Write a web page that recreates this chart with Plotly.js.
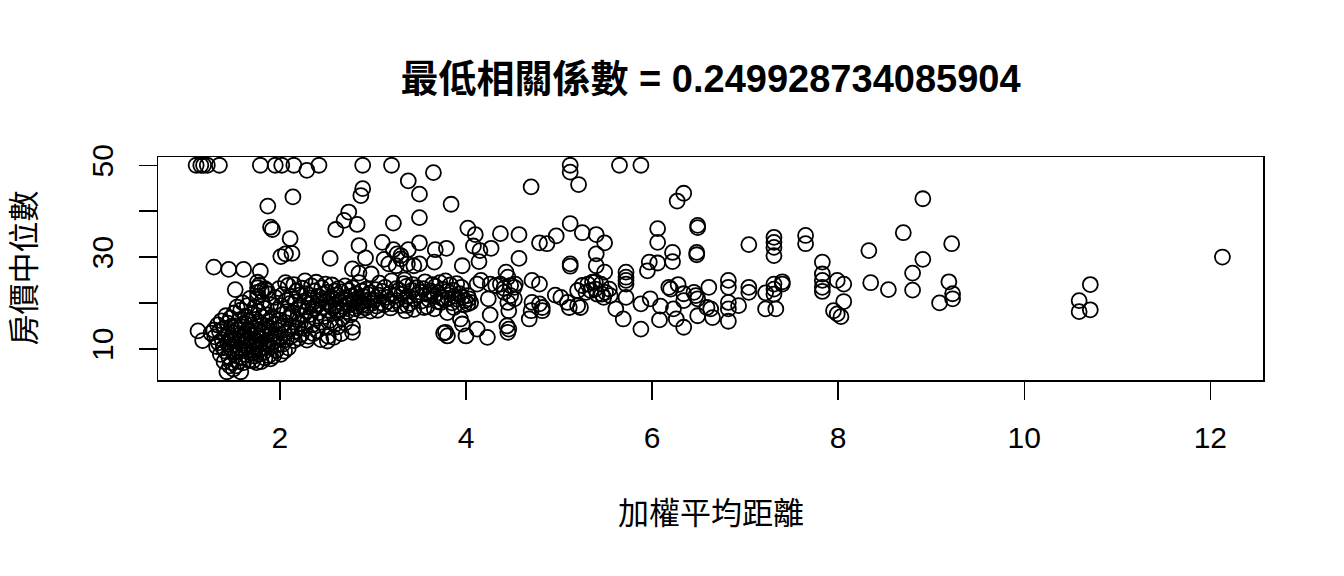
<!DOCTYPE html>
<html>
<head>
<meta charset="utf-8">
<script src="https://cdn.plot.ly/plotly-3.0.1.min.js"></script>
<style>
html,body{margin:0;padding:0;background:#fff;}
#chart{width:1344px;height:576px;}
</style>
</head>
<body>
<div id="chart"></div>
<script>
// Text
const chartTitle = "最低相關係數 = 0.249928734085904";
const xTitle = "加權平均距離";
const yTitle = "房價中位數";
const xTickVals = [2, 4, 6, 8, 10, 12];
const xTickText = ["2", "4", "6", "8", "10", "12"];
const yTickVals = [10, 20, 30, 40, 50];
const yTickText = ["10", "", "30", "", "50"];

// Sparse points (weighted mean distance, median price)
const farDis  = [8.91,8.70,8.33,9.22,8.91,8.80,8.35,8.54,8.80,9.19,9.23,9.23,9.09,10.71,10.59,10.59,10.71,12.13];
const farMedv = [42.7,35.3,31.4,32.9,29.5,26.5,24.4,22.9,22.8,24.6,22.0,20.9,20.0,24.0,20.5,18.1,18.5,30.0];

const midDis  = [6.34,6.27,6.06,6.06,6.49,6.49,6.22,6.22,6.48,6.48,6.06,7.04,7.31,7.31,7.31,7.31,7.65,7.65,7.83,7.83,7.83,7.83,7.83,7.99,8.06,8.06,7.95,7.99,8.03,
                 6.09,6.08,6.18,6.20,6.28,6.23,6.26,6.34,6.34,6.34,6.45,6.47,6.49,6.49,6.61,6.59,6.63,6.65,6.82,6.82,6.82,6.82,6.82,6.93,7.04,7.04,7.22,7.22,7.31,7.31,7.31,7.33,7.40,7.40];
const midMedv = [43.9,42.2,36.2,33.2,36.9,36.4,31.0,29.0,31.0,30.5,28.7,32.7,34.3,33.2,32.1,30.3,34.7,32.9,28.9,26.3,24.9,23.4,22.5,24.9,24.1,20.3,18.3,17.6,17.0,
                 19.3,16.3,23.4,23.0,24.0,18.7,16.5,14.7,20.5,22.0,22.3,21.6,20.9,17.2,23.4,19.0,18.7,16.8,24.9,23.4,20.1,18.7,16.0,19.4,23.4,22.3,22.2,18.7,24.1,23.0,21.9,18.7,24.6,24.1];

const cenDis  = [5.12,5.12,5.21,5.65,5.88,4.70,4.02,4.10,4.37,4.57,4.08,4.15,4.27,4.14,3.96,4.57,4.79,4.87,4.97,5.12,5.25,5.40,5.49,5.40,5.40,5.12,5.12,5.49,5.97,5.95,
                 5.72,5.72,5.72,5.72,4.71,4.79,4.43,4.45,4.16,4.26,4.32,4.37,4.41,4.48,4.52,4.53,4.41,4.48,4.52,4.45,4.46,4.44,4.46,4.45,4.02,4.03,4.05,3.99,4.02,3.94,
                 3.96,4.00,4.12,4.23,4.26,4.24,4.12,4.71,4.79,4.82,4.82,4.70,4.68,4.96,5.02,5.09,5.11,5.20,5.23,5.20,5.25,5.31,5.36,5.39,5.45,5.29,5.34,5.39,5.41,5.46,
                 5.50,5.54,5.55,5.48,5.61,5.69,5.88,5.88,5.98,5.72];
const cenMedv = [50.0,48.5,45.8,50.0,50.0,45.3,36.3,34.9,35.1,34.9,32.4,31.4,31.9,29.0,28.1,29.7,33.1,32.9,34.6,37.3,35.3,34.9,33.1,30.7,28.1,28.5,28.0,26.7,28.9,27.0,
                 26.7,25.6,24.9,24.1,24.9,24.1,26.7,25.6,24.9,24.1,23.8,24.1,23.2,23.8,23.4,24.1,22.3,21.6,20.9,20.1,18.3,15.0,14.3,13.6,21.6,20.9,20.1,20.5,19.8,16.5,
                 15.4,12.8,14.3,12.5,17.4,20.9,24.1,20.1,19.8,19.0,18.3,18.3,16.5,21.7,21.2,20.1,19.0,19.4,19.0,22.7,23.8,24.1,24.5,24.6,24.1,22.3,22.7,23.0,21.9,21.9,
                 22.3,23.0,21.6,21.2,18.7,16.5,14.3,19.8,20.9,21.2];

const upDis  = [2.42,2.89,3.20,2.29,3.65,3.38,3.50,3.84,2.89,2.87,2.74,2.69,2.60,2.83,3.22,3.50,2.85,3.10,3.22,3.26,3.30,3.38,3.50,3.67,3.79,2.54,2.92,3.12,3.17,3.25,
                3.30,3.37,3.44,3.50,3.66,2.78,2.85,2.98,3.78,3.80,3.76,2.78,2.78,2.58,2.51,3.37,3.35,3.55,3.66,3.73,3.80];
const upMedv = [50.0,50.0,50.0,48.9,48.4,46.6,43.7,41.5,44.9,43.4,39.8,38.0,36.0,37.1,37.4,38.6,32.5,33.2,31.6,30.7,30.3,31.6,33.1,31.6,31.9,29.7,29.8,29.5,28.5,28.1,
                29.6,28.5,28.1,28.5,28.9,27.4,26.5,26.3,13.6,12.8,13.4,14.7,13.6,12.5,11.7,19.4,18.3,19.0,18.7,20.1,17.9];

const leftDis  = [1.10,1.15,1.18,1.22,1.35,1.79,1.95,2.02,2.15,2.14,1.87,1.90,1.92,2.11,2.01,2.06,2.13,1.29,1.45,1.61,1.79,1.52,1.76,1.76,1.76,1.12,1.17,1.86];
const leftMedv = [50.0,50.0,50.0,50.0,50.0,50.0,50.0,50.0,50.0,43.1,41.1,36.5,36.0,34.0,30.1,30.7,30.8,27.8,27.3,27.3,26.9,22.9,24.5,23.3,22.3,13.9,11.8,22.7];

// Dense cluster
const blobDis = [
 1.26,1.29,1.30,1.32,1.33,1.34,1.35,1.36,1.37,1.38,1.39,1.40,1.40,1.41,1.42,1.42,1.43,1.44,1.44,1.45,1.45,1.46,1.46,1.47,1.47,1.48,1.48,1.49,1.49,1.50,
 1.50,1.51,1.51,1.52,1.52,1.53,1.53,1.54,1.54,1.55,1.55,1.56,1.56,1.57,1.57,1.58,1.58,1.59,1.59,1.60,1.60,1.61,1.61,1.62,1.62,1.63,1.63,1.64,1.64,1.65,1.65,1.66,1.66,1.67,1.67,1.68,1.68,1.69,1.69,1.70,
 1.70,1.71,1.71,1.72,1.72,1.73,1.73,1.74,1.74,1.75,1.75,1.76,1.76,1.77,1.77,1.78,1.78,1.79,1.79,1.80,1.80,1.81,1.81,1.82,1.82,1.83,1.83,1.84,1.84,1.85,1.85,1.86,1.86,1.87,1.87,1.88,1.88,1.89,1.89,1.90,1.90,1.90,1.84,1.78,1.80,
 1.91,1.92,1.93,1.93,1.94,1.95,1.95,1.96,1.97,1.97,1.98,1.99,1.99,2.00,2.01,2.01,2.02,2.03,2.03,2.04,2.05,2.05,2.06,2.07,2.07,2.08,2.09,2.09,2.10,2.11,2.11,2.12,2.13,2.13,2.14,2.15,2.15,2.16,2.17,2.18,2.18,2.19,2.20,2.20,2.06,
 2.21,2.22,2.23,2.23,2.24,2.25,2.26,2.27,2.27,2.28,2.29,2.30,2.31,2.31,2.32,2.33,2.34,2.35,2.35,2.36,2.37,2.38,2.39,2.40,2.40,2.41,2.42,2.43,2.44,2.45,2.46,2.47,2.48,2.49,2.50,2.50,2.51,2.52,2.53,2.54,2.55,2.56,2.57,2.58,2.59,2.59,2.44,2.36,2.29,2.52,
 2.60,2.61,2.62,2.63,2.64,2.65,2.66,2.67,2.68,2.69,2.70,2.71,2.72,2.73,2.74,2.75,2.76,2.77,2.78,2.79,2.80,2.81,2.82,2.83,2.84,2.85,2.86,2.87,2.88,2.89,2.90,2.91,2.92,2.93,2.94,2.95,2.96,2.97,2.98,2.99,2.70,2.62,2.66,
 3.01,3.03,3.04,3.06,3.07,3.09,3.10,3.12,3.13,3.15,3.16,3.18,3.20,3.21,3.23,3.25,3.26,3.28,3.30,3.31,3.33,3.35,3.36,3.38,3.40,3.42,3.43,3.45,3.47,3.48,3.50,3.05,3.19,3.44,3.34,
 3.52,3.54,3.56,3.58,3.60,3.62,3.64,3.66,3.67,3.69,3.70,3.72,3.73,3.75,3.77,3.78,3.80,3.81,3.83,3.85,3.86,3.88,3.90,3.91,3.93,3.95,3.96,3.98,3.58,3.87
];
const blobMedv = [
 13.4,14.1,12.6,10.5,15.2,11.3,13.8,8.8,16.1,12.0,10.2,14.5,7.2,9.5,12.7,17.2,5.0,11.0,15.6,8.3,13.1,6.3,10.4,16.7,12.3,7.0,14.9,9.7,11.8,5.6,
 13.4,17.8,10.9,8.5,15.0,12.1,6.3,19.1,14.2,9.6,11.5,7.2,16.3,13.0,10.2,5.0,18.4,8.1,14.8,12.6,20.0,10.8,7.0,15.6,13.3,9.5,17.1,11.7,8.7,14.1,19.4,12.3,10.4,16.0,7.5,13.8,21.0,11.0,15.2,9.0,
 17.5,12.8,7.4,14.5,10.5,19.0,8.4,13.1,16.4,11.7,7.0,21.4,14.0,9.7,18.1,12.3,8.8,15.6,10.9,13.6,7.2,20.3,16.9,11.3,9.1,14.4,18.8,12.7,8.0,15.0,10.2,17.4,13.5,11.0,22.0,8.5,16.1,12.0,14.6,19.6,10.4,7.8,23.1,23.9,22.6,
 13.1,17.0,11.5,8.4,15.4,21.2,12.6,9.6,18.5,14.1,10.9,23.1,16.2,12.3,19.4,8.8,14.9,11.0,21.8,17.6,13.4,9.5,15.7,20.6,12.0,18.1,10.2,23.8,14.3,16.8,19.9,12.7,21.4,15.0,17.8,11.8,24.0,13.8,20.2,16.4,22.6,14.6,18.9,12.3,24.4,
 21.7,15.6,19.3,13.1,23.2,17.2,20.4,14.4,24.8,18.2,22.0,16.0,19.8,12.7,21.1,17.5,23.7,15.2,20.0,18.8,22.6,16.6,24.5,19.4,13.9,21.5,17.9,20.6,15.8,23.3,19.1,21.9,17.0,24.1,20.2,14.6,22.3,18.4,19.6,16.2,21.2,23.9,18.9,20.8,15.3,22.6,12.0,13.3,11.9,12.7,
 19.5,21.7,17.8,23.1,20.3,18.6,22.4,16.7,20.9,19.2,23.7,21.2,18.1,20.0,22.7,19.6,17.4,21.5,23.3,19.9,20.6,18.7,22.0,19.3,21.0,24.4,20.1,18.4,22.6,19.7,21.4,20.4,18.9,23.0,19.4,21.8,20.7,18.2,22.2,19.9,15.6,14.8,13.3,
 20.6,22.9,19.3,21.7,24.3,20.0,22.5,19.6,23.4,21.2,20.3,22.0,24.8,19.8,21.5,23.1,20.5,22.8,19.4,21.9,24.2,20.8,23.6,21.4,19.9,22.7,24.0,20.9,23.3,21.7,22.4,18.4,18.9,18.6,25.0,
 20.4,23.1,24.6,21.9,20.8,22.6,24.0,21.4,23.6,20.3,22.2,24.4,21.1,23.0,20.6,24.8,22.5,21.0,23.9,20.0,22.8,21.5,24.2,20.8,22.0,23.4,21.2,19.6,19.2,19.0
];

const dis  = [].concat(leftDis, blobDis, upDis, cenDis, midDis, farDis);
const medv = [].concat(leftMedv, blobMedv, upMedv, cenMedv, midMedv, farMedv);

const FONT = "'Liberation Sans', Arial, 'Noto Sans CJK TC', sans-serif";

const trace = {
  type: "scatter",
  mode: "markers",
  x: dis,
  y: medv,
  marker: {symbol: "circle-open", size: 15, color: "#000", line: {width: 1.8, color: "#000"}},
  hoverinfo: "x+y"
};

const axisCommon = {
  showgrid: false, zeroline: false,
  showline: true, linecolor: "#000", linewidth: 1.5, mirror: true,
  ticks: "outside", ticklen: 18, tickwidth: 1.5, tickcolor: "#000",
  tickfont: {family: FONT, size: 30, color: "#000"}
};

const layout = {
  width: 1344, height: 576,
  paper_bgcolor: "#fff", plot_bgcolor: "#fff",
  margin: {l: 158, r: 81, t: 157, b: 196, pad: 0},
  showlegend: false,
  title: {
    text: "<b>" + chartTitle + "</b>",
    font: {family: FONT, size: 38, color: "#000"},
    x: 0.5287, xref: "container", xanchor: "center",
    y: 1 - 79/576, yref: "container", yanchor: "middle"
  },
  xaxis: Object.assign({}, axisCommon, {
    range: [0.69, 12.566], tickvals: xTickVals, ticktext: xTickText,
    ticklabelstandoff: 12
  }),
  yaxis: Object.assign({}, axisCommon, {
    range: [3.2, 51.8], tickvals: yTickVals, ticktext: yTickText,
    tickangle: -90, ticklabelstandoff: 14
  }),
  annotations: [
    {text: xTitle, xref: "paper", yref: "paper", x: 0.5, y: (380 - 513) / 223,
     xanchor: "center", yanchor: "middle", showarrow: false,
     font: {family: FONT, size: 31, color: "#000"}},
    {text: yTitle, xref: "paper", yref: "paper", x: (24 - 158) / 1105, y: 0.5,
     xanchor: "center", yanchor: "middle", showarrow: false, textangle: -90,
     font: {family: FONT, size: 31, color: "#000"}}
  ]
};

Plotly.newPlot("chart", [trace], layout, {displayModeBar: false, staticPlot: true});
</script>
</body>
</html>
